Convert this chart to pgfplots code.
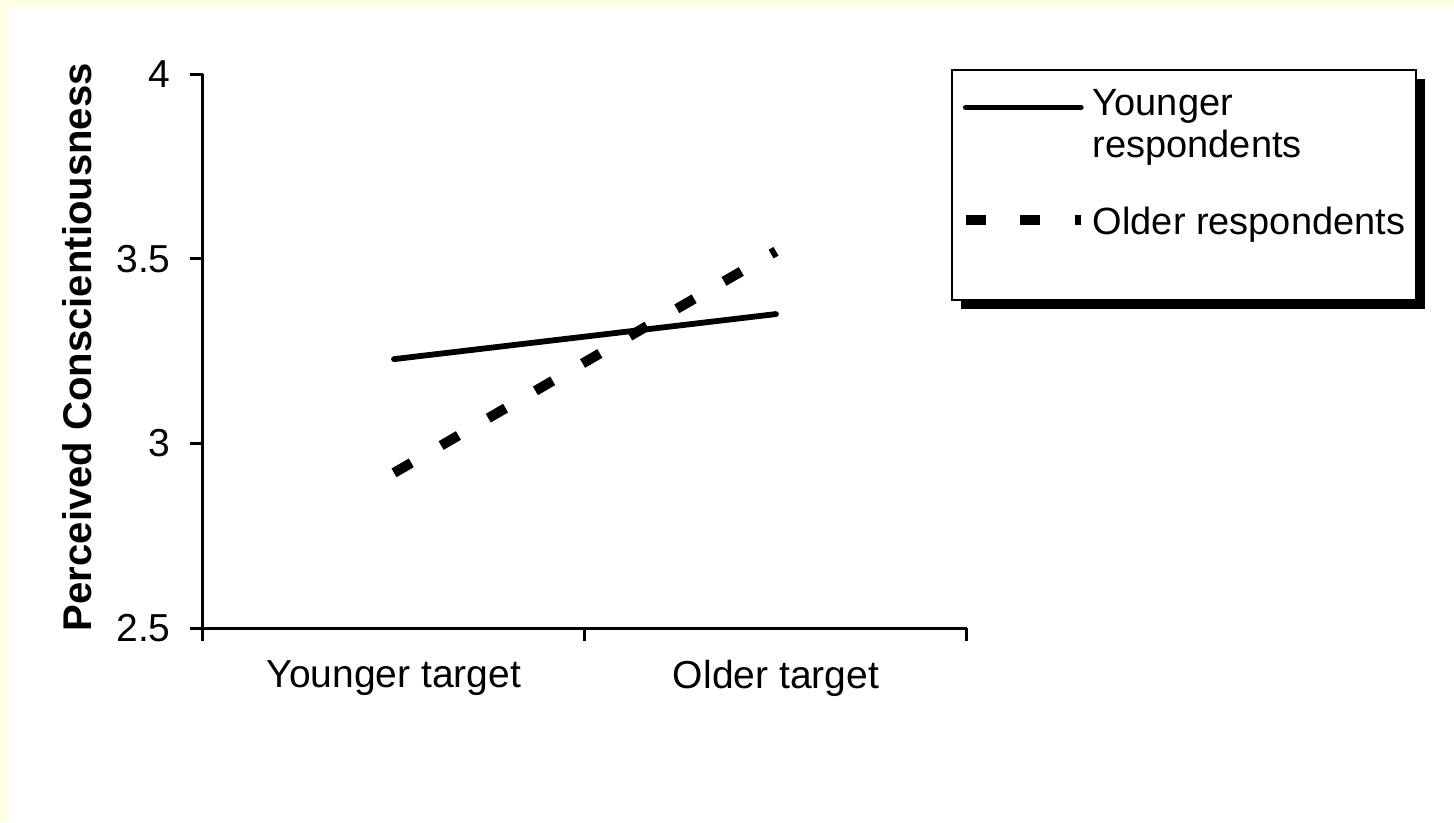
\documentclass[border=0pt]{standalone}
\usepackage{fontspec}
\setmainfont{Liberation Sans}
\usepackage{pgfplots}
\pgfplotsset{compat=1.18}
\definecolor{bgyellow}{RGB}{255,255,228}
\pgfplotsset{
  leg down/.style={legend image code/.code={\draw[##1] (0cm,-0.04cm) -- (1.15cm,-0.04cm);}},
  leg up/.style={legend image code/.code={\draw[##1] (0cm,0.03cm) -- (1.15cm,0.03cm);}},
}

\begin{document}
\begin{tikzpicture}
% page background: thin yellow band on top and left
\fill[bgyellow] (-2.03,-1.94) rectangle (12.51,6.28);
\fill[white] (-1.95,-1.94) rectangle (12.51,6.21);
\useasboundingbox (-2.03,-1.94) rectangle (12.51,6.28);
% legend frame with drop shadow
\fill[black] (7.58,3.19) rectangle (12.22,5.49);
\draw[line width=0.02cm, fill=white] (7.49,3.28) rectangle (12.13,5.58);

\begin{axis}[
  scale only axis,
  width=7.64cm, height=5.54cm,
  xmin=0, xmax=2, ymin=2.5, ymax=4,
  axis x line*=bottom, axis y line*=left,
  axis line style={line width=0.03cm},
  xtick={0,1,2},
  x tick label as interval,
  xticklabels={Younger target, Older target},
  ytick={2.5,3,3.5,4},
  tick align=outside, tick pos=left,
  major tick length=0.13cm,
  tick style={line width=0.03cm, black},
  ticklabel style={font=\fontsize{11.1}{13}\selectfont},
  /pgf/number format/assume math mode=true,
  yticklabel style={xshift=-0.07cm},
  xticklabel style={yshift=-0.07cm},
  ylabel={\bfseries Perceived Conscientiousness},
  ylabel style={font=\fontsize{11.4}{13}\selectfont, at={(axis description cs:-0.165,0.507)}, rotate=0, anchor=center},
  legend style={draw=none, fill=none, at={(0.991,0.992)}, anchor=north west,
    inner sep=0pt, font=\fontsize{10.8}{12}\selectfont, row sep=0.72cm},
  legend cell align=left,
]
\addplot[line width=0.058cm, line cap=round, leg down]
  coordinates {(0.5,3.228) (1.5,3.35)};
\addlegendentry{\raisebox{0pt}[\height][0pt]{\begin{tabular}[t]{@{}l@{}}Younger\\respondents\end{tabular}}}
\addplot[line width=0.10cm, dash pattern=on 0.2cm off 0.345cm, leg up]
  coordinates {(0.5,2.92) (1.5,3.52)};
\addlegendentry{Older respondents}
\end{axis}
\end{tikzpicture}
\end{document}
